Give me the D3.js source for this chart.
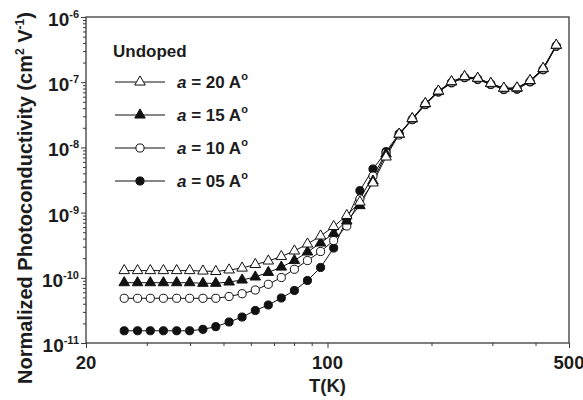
<!DOCTYPE html>
<html>
<head>
<meta charset="utf-8">
<script src="https://cdn.jsdelivr.net/npm/d3@7"></script>
<style>
  body { margin: 0; background: #fff; }
  svg { display: block; }
  text { font-family: "Liberation Sans", Arial, sans-serif; font-weight: bold; fill: #1c1c1c; }
</style>
</head>
<body>
<svg id="chart" width="583" height="400"></svg>
<script>
// Temperature points (K)
const temperatures = [25.8, 28.2, 30.7, 33.5, 36.6, 39.9, 43.6, 47.5, 51.9, 56.6,
  61.8, 67.4, 73.5, 80.2, 87.5, 95.5, 104.2, 113.7, 124.1, 135.4,
  147.7, 161.2, 175.9, 191.9, 209.4, 228.5, 249.3, 272.1, 296.9, 323.9,
  353.5, 385.7, 420.8, 459.2];

// Normalized photoconductivity for each well width a
const sigmaA20 = [1.29e-10, 1.29e-10, 1.29e-10, 1.29e-10, 1.29e-10, 1.29e-10, 1.27e-10, 1.25e-10, 1.32e-10, 1.41e-10,
  1.60e-10, 1.81e-10, 2.12e-10, 2.58e-10, 3.30e-10, 4.38e-10, 6.12e-10, 9.03e-10, 1.45e-9, 2.85e-9,
  7.13e-9, 1.60e-8, 2.77e-8, 4.71e-8, 7.33e-8, 1.02e-7, 1.22e-7, 1.15e-7, 9.6e-8, 8.1e-8,
  8.2e-8, 1.06e-7, 1.63e-7, 3.70e-7];
const sigmaA15 = [8.41e-11, 8.41e-11, 8.41e-11, 8.41e-11, 8.41e-11, 8.41e-11, 8.24e-11, 8.24e-11, 8.62e-11, 9.25e-11,
  1.03e-10, 1.21e-10, 1.46e-10, 1.84e-10, 2.49e-10, 3.42e-10, 4.82e-10, 7.43e-10, 1.28e-9, 3.05e-9,
  7.92e-9, 1.58e-8, 2.74e-8, 4.66e-8, 7.25e-8, 1.01e-7, 1.21e-7, 1.14e-7, 9.5e-8, 8.0e-8,
  8.1e-8, 1.05e-7, 1.61e-7, 3.66e-7];
const sigmaA10 = [4.85e-11, 4.85e-11, 4.85e-11, 4.85e-11, 4.85e-11, 4.85e-11, 4.85e-11, 4.85e-11, 5.17e-11, 5.70e-11,
  6.50e-11, 7.95e-11, 1.01e-10, 1.35e-10, 1.84e-10, 2.53e-10, 3.73e-10, 6.23e-10, 1.62e-9, 3.64e-9,
  8.2e-9, 1.55e-8, 2.70e-8, 4.60e-8, 7.15e-8, 9.9e-8, 1.19e-7, 1.12e-7, 9.35e-8, 7.85e-8,
  7.95e-8, 1.03e-7, 1.58e-7, 3.60e-7];
const sigmaA05 = [1.54e-11, 1.54e-11, 1.54e-11, 1.54e-11, 1.54e-11, 1.54e-11, 1.62e-11, 1.78e-11, 2.10e-11, 2.50e-11,
  3.15e-11, 3.83e-11, 4.90e-11, 6.39e-11, 9.09e-11, 1.44e-10, 2.86e-10, 7.98e-10, 2.17e-9, 4.67e-9,
  8.6e-9, 1.62e-8, 2.66e-8, 4.52e-8, 7.05e-8, 9.75e-8, 1.17e-7, 1.10e-7, 9.2e-8, 7.7e-8,
  7.8e-8, 1.01e-7, 1.55e-7, 3.55e-7];

const wellWidths = ["20", "15", "10", "05"];
const xTickMajor = [20, 100, 500];
const xTickMinor = [30, 40, 50, 60, 70, 80, 90, 200, 300, 400];
const yExponents = [-11, -10, -9, -8, -7, -6];

const series = [
  { width: wellWidths[0], values: sigmaA20, shape: d3.symbolTriangle, filled: false },
  { width: wellWidths[1], values: sigmaA15, shape: d3.symbolTriangle, filled: true },
  { width: wellWidths[2], values: sigmaA10, shape: d3.symbolCircle, filled: false },
  { width: wellWidths[3], values: sigmaA05, shape: d3.symbolCircle, filled: true }
];

const svg = d3.select("#chart");
const plotLeft = 86, plotRight = 569, plotTop = 17, plotBottom = 343;

const x = d3.scaleLog().domain([20, 500]).range([plotLeft, plotRight]);
const y = d3.scaleLog().domain([1e-11, 1e-6]).range([plotBottom, plotTop]);

const frameColor = "#3a3a3a";

// y minor ticks (2..9 per decade)
const yMinor = [];
for (let e = -11; e < -6; e++) for (let m = 2; m <= 9; m++) yMinor.push(m * Math.pow(10, e));
const yMajor = yExponents.map(e => Math.pow(10, e));

function styleAxis(g) {
  g.select(".domain").remove();
  g.selectAll("line").attr("stroke", frameColor).attr("stroke-width", 1);
  g.selectAll("text").remove();
}

svg.append("g").attr("transform", `translate(${plotLeft},0)`)
  .call(d3.axisLeft(y).tickValues(yMinor).tickSize(3)).call(styleAxis);
svg.append("g").attr("transform", `translate(${plotLeft},0)`)
  .call(d3.axisLeft(y).tickValues(yMajor).tickSize(5)).call(styleAxis);
svg.append("g").attr("transform", `translate(0,${plotBottom})`)
  .call(d3.axisBottom(x).tickValues(xTickMinor).tickSize(3)).call(styleAxis);
svg.append("g").attr("transform", `translate(0,${plotBottom})`)
  .call(d3.axisBottom(x).tickValues(xTickMajor).tickSize(5)).call(styleAxis);

// plot frame
svg.append("rect")
  .attr("x", plotLeft).attr("y", plotTop)
  .attr("width", plotRight - plotLeft).attr("height", plotBottom - plotTop)
  .attr("fill", "none").attr("stroke", frameColor).attr("stroke-width", 1.3);

// y tick labels: 10 with superscript exponent
yExponents.forEach(e => {
  const t = svg.append("text")
    .attr("x", 79).attr("y", y(Math.pow(10, e)) + 9)
    .attr("text-anchor", "end")
    .style("font-size", "19px");
  t.append("tspan").text("10");
  t.append("tspan").attr("dy", -8).style("font-size", "11px").text(String(e));
});

// x tick labels
xTickMajor.forEach(v => {
  svg.append("text")
    .attr("x", x(v)).attr("y", 369)
    .attr("text-anchor", "middle")
    .style("font-size", "18.5px")
    .text(v);
});

// axis titles
svg.append("text")
  .attr("x", (plotLeft + plotRight) / 2).attr("y", 392)
  .attr("text-anchor", "middle")
  .style("font-size", "18.5px")
  .text("T(K)");

const yTitle = svg.append("text")
  .attr("transform", "translate(32,384) rotate(-90)")
  .attr("text-anchor", "start")
  .style("font-size", "20px");
yTitle.append("tspan").text("Normalized Photoconductivity (cm");
yTitle.append("tspan").attr("dy", -8).style("font-size", "12px").text("2");
yTitle.append("tspan").attr("dy", 8).text(" V");
yTitle.append("tspan").attr("dy", -8).style("font-size", "12px").text("-1");
yTitle.append("tspan").attr("dy", 8).text(")");

// data lines and markers (first series drawn on top)
const line = d3.line()
  .x((d, i) => x(temperatures[i]))
  .y(d => y(d));

const drawOrder = series.slice().reverse();
drawOrder.forEach(s => {
  svg.append("path")
    .attr("d", line(s.values))
    .attr("fill", "none")
    .attr("stroke", "#111")
    .attr("stroke-width", 1);
});

function markerSize(shape) {
  return shape === d3.symbolTriangle ? 48 : 52;
}

drawOrder.forEach(s => {
  const sym = d3.symbol().type(s.shape).size(markerSize(s.shape));
  svg.append("g").selectAll("path")
    .data(s.values)
    .join("path")
    .attr("transform", (d, i) => `translate(${x(temperatures[i])},${y(d)})`)
    .attr("d", sym)
    .attr("fill", s.filled ? "#111" : "#fff")
    .attr("stroke", "#111")
    .attr("stroke-width", 1);
});

// legend
svg.append("text")
  .attr("x", 113).attr("y", 57)
  .style("font-size", "17px")
  .text("Undoped");

const legendRows = [82, 115, 148, 181];
series.forEach((s, i) => {
  const ry = legendRows[i];
  svg.append("line")
    .attr("x1", 115).attr("x2", 165)
    .attr("y1", ry).attr("y2", ry)
    .attr("stroke", "#111").attr("stroke-width", 1);
  svg.append("path")
    .attr("transform", `translate(140,${ry})`)
    .attr("d", d3.symbol().type(s.shape).size(markerSize(s.shape)))
    .attr("fill", s.filled ? "#111" : "#fff")
    .attr("stroke", "#111").attr("stroke-width", 1);
  const t = svg.append("text")
    .attr("x", 177).attr("y", ry + 6)
    .style("font-size", "17px");
  t.append("tspan").style("font-style", "italic").text("a");
  t.append("tspan").text(` = ${s.width} A`);
  t.append("tspan").attr("dy", -8).style("font-size", "11px").text("o");
});
</script>
</body>
</html>
